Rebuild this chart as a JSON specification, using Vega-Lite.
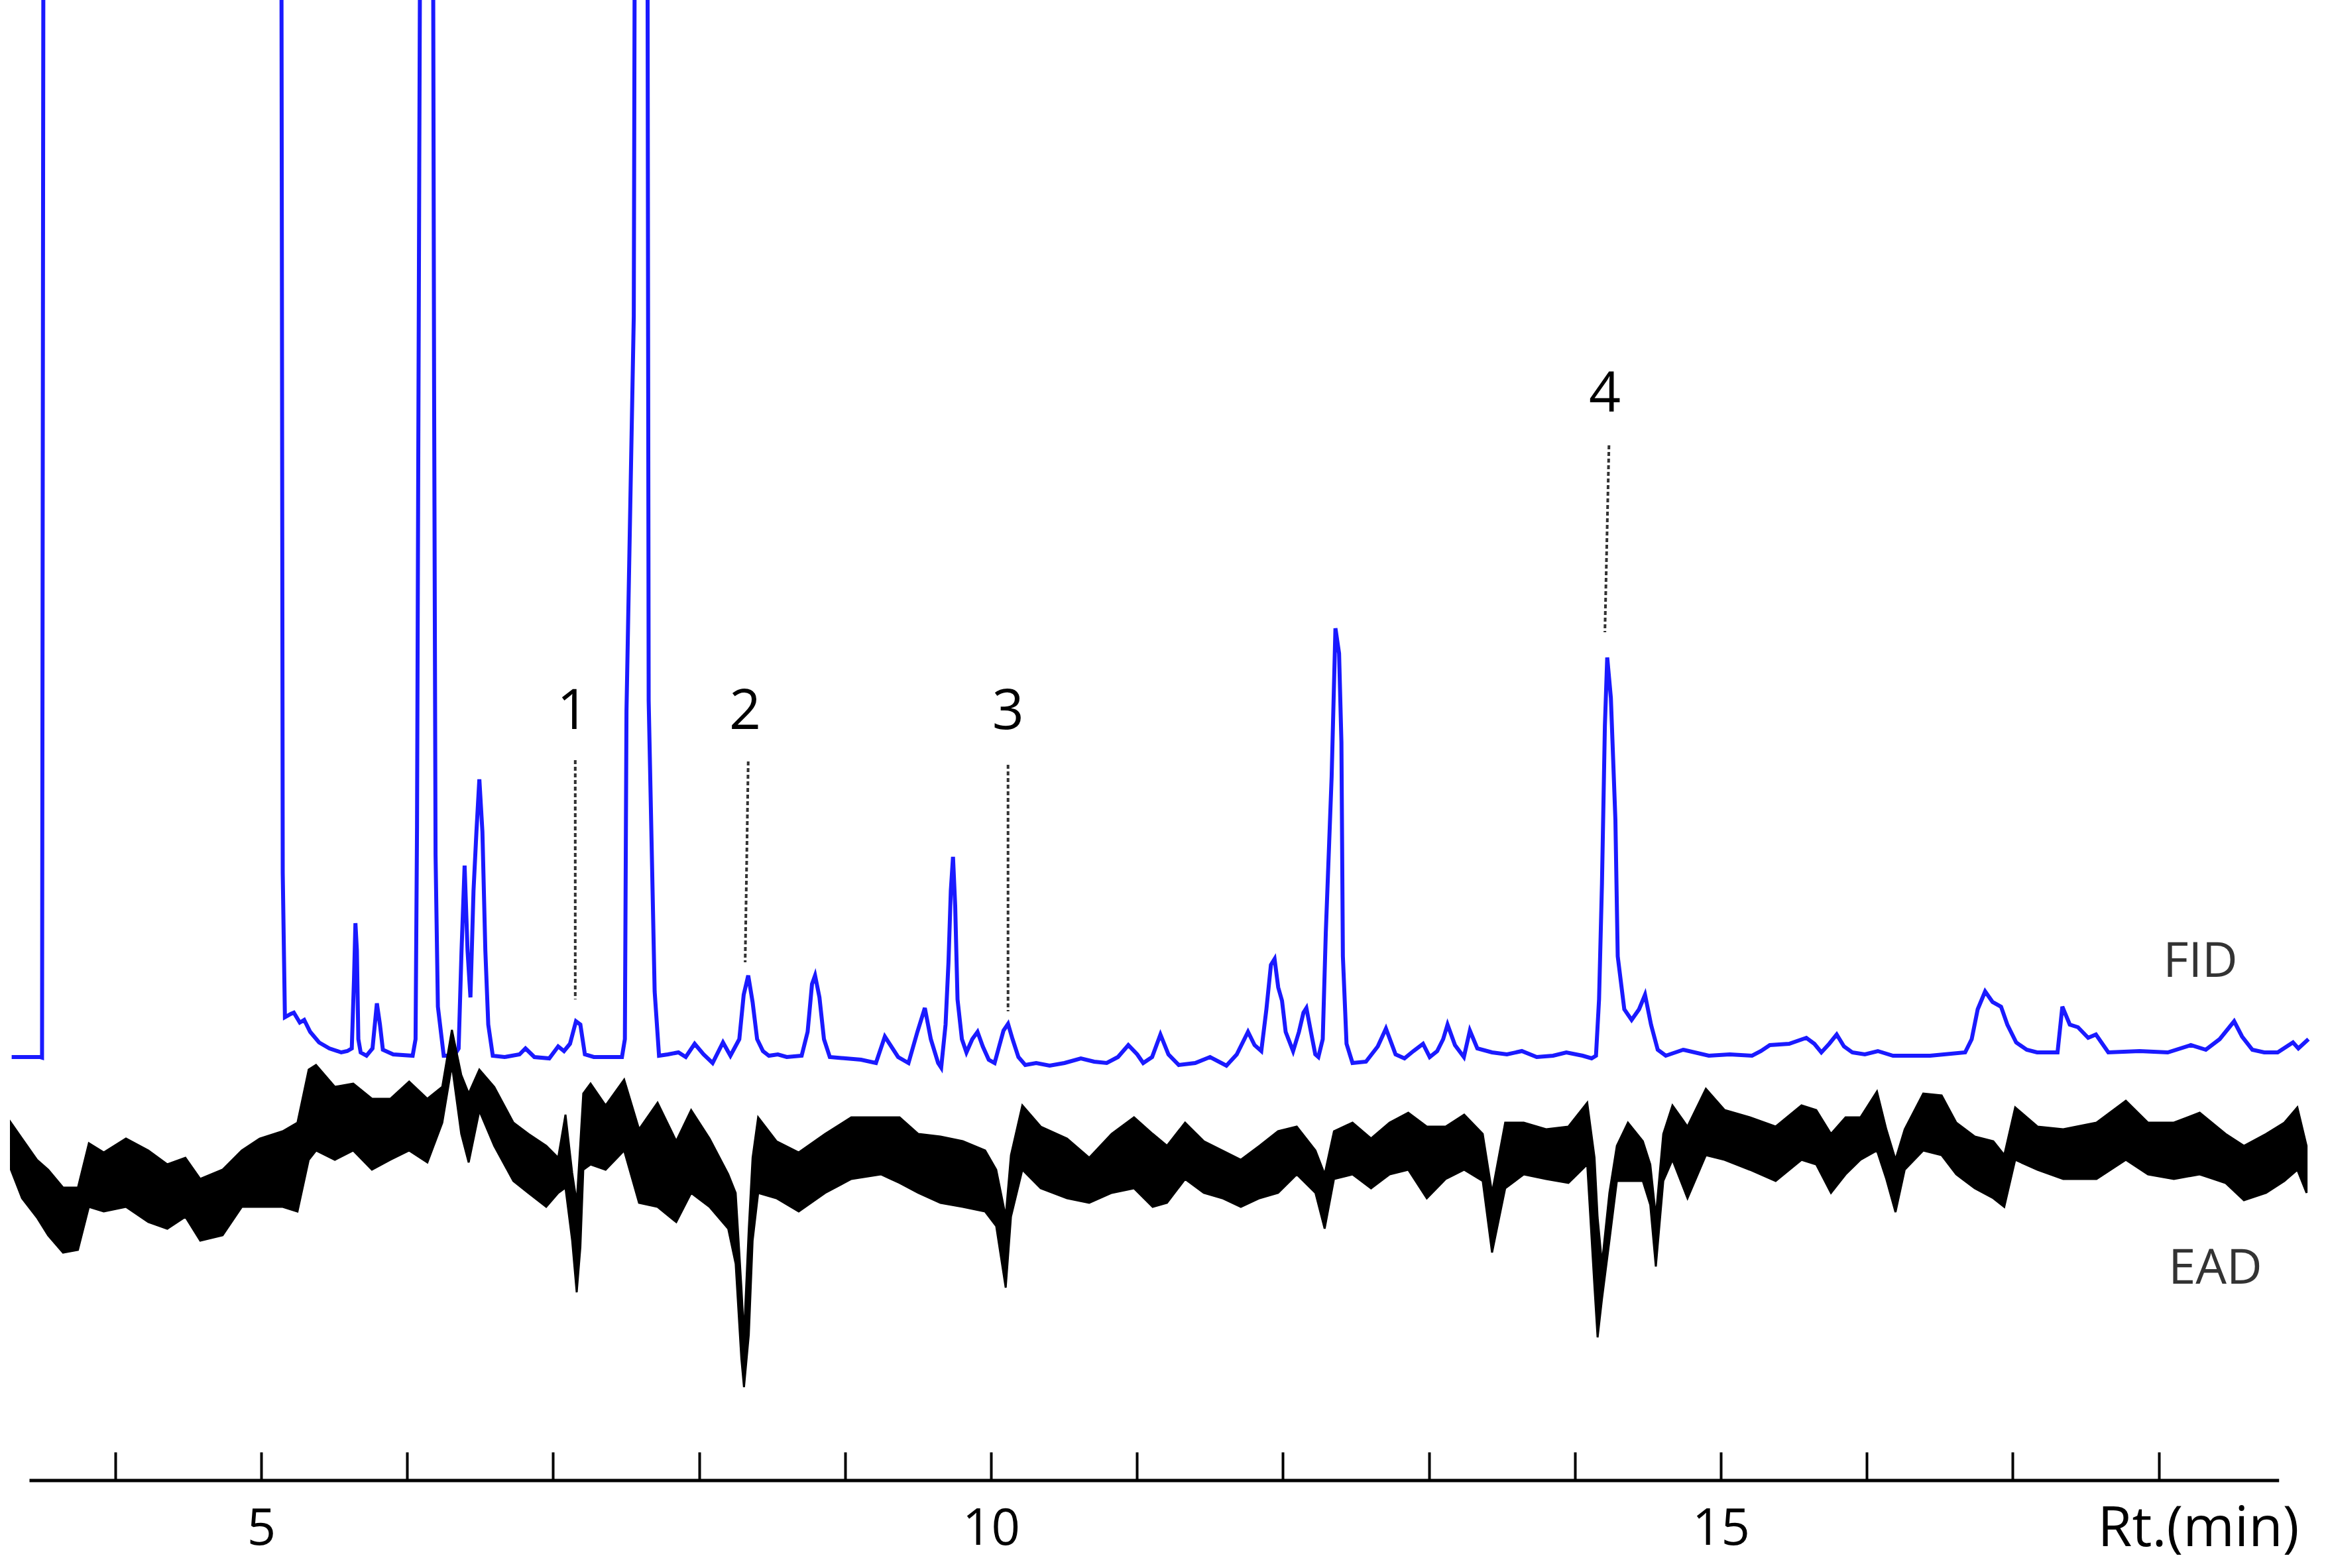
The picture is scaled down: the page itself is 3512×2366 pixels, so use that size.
{
  "$schema": "https://vega.github.io/schema/vega-lite/v6.json",
  "autosize": {"type": "none"},
  "padding": {"left": 0, "top": 0, "right": 0, "bottom": 132},
  "width": 3512,
  "height": 2234,
  "background": "white",
  "config": {"view": {"stroke": null}, "font": "Open Sans"},
  "datasets": {
    "fid": [
      {"t":3.291,"v":0},{"t":3.484,"v":0},{"t":3.499,"v":-0.1},{"t":3.51,"v":200},{"t":5.137,"v":200},
      {"t":5.148,"v":27.8},{"t":5.163,"v":6.0},{"t":5.203,"v":6.5},{"t":5.224,"v":6.7},{"t":5.265,"v":5.2},
      {"t":5.295,"v":5.6},{"t":5.336,"v":3.8},{"t":5.397,"v":2.2},{"t":5.468,"v":1.3},{"t":5.549,"v":0.7},
      {"t":5.59,"v":0.9},{"t":5.621,"v":1.3},{"t":5.636,"v":11.6},{"t":5.646,"v":20.2},{"t":5.656,"v":16.1},
      {"t":5.666,"v":2.7},{"t":5.682,"v":0.7},{"t":5.722,"v":0.2},{"t":5.763,"v":1.3},{"t":5.793,"v":8.1},
      {"t":5.814,"v":4.9},{"t":5.834,"v":1.1},{"t":5.905,"v":0.4},{"t":6.038,"v":0.2},{"t":6.058,"v":2.7},
      {"t":6.068,"v":34.7},{"t":6.083,"v":131.9},{"t":6.094,"v":200},{"t":6.175,"v":200},{"t":6.185,"v":101.0},
      {"t":6.195,"v":30.5},{"t":6.211,"v":7.6},{"t":6.251,"v":0.2},{"t":6.322,"v":0.2},{"t":6.353,"v":1.3},
      {"t":6.373,"v":16.1},{"t":6.394,"v":28.9},{"t":6.414,"v":16.1},{"t":6.434,"v":9.0},{"t":6.455,"v":25.1},
      {"t":6.475,"v":34.0},{"t":6.495,"v":41.9},{"t":6.516,"v":34.0},{"t":6.536,"v":16.1},{"t":6.556,"v":4.9},
      {"t":6.587,"v":0.2},{"t":6.668,"v":0},{"t":6.77,"v":0.4},{"t":6.811,"v":1.3},{"t":6.872,"v":0},
      {"t":6.974,"v":-0.2},{"t":7.035,"v":1.6},{"t":7.075,"v":0.9},{"t":7.116,"v":2.0},{"t":7.157,"v":5.4},
      {"t":7.187,"v":4.9},{"t":7.218,"v":0.4},{"t":7.279,"v":0},{"t":7.431,"v":0},{"t":7.472,"v":0},
      {"t":7.492,"v":2.7},{"t":7.503,"v":52.2},{"t":7.553,"v":111.8},{"t":7.563,"v":200},{"t":7.645,"v":200},
      {"t":7.655,"v":53.8},{"t":7.696,"v":9.9},{"t":7.726,"v":0.2},{"t":7.787,"v":0.4},{"t":7.859,"v":0.7},
      {"t":7.909,"v":0},{"t":7.97,"v":2.0},{"t":8.031,"v":0.4},{"t":8.093,"v":-0.9},{"t":8.164,"v":2.2},
      {"t":8.215,"v":0.2},{"t":8.276,"v":2.7},{"t":8.306,"v":9.4},{"t":8.337,"v":12.3},{"t":8.367,"v":8.3},
      {"t":8.398,"v":2.7},{"t":8.438,"v":0.9},{"t":8.479,"v":0.2},{"t":8.54,"v":0.4},{"t":8.601,"v":0},
      {"t":8.703,"v":0.2},{"t":8.744,"v":3.8},{"t":8.774,"v":11.0},{"t":8.795,"v":12.3},{"t":8.825,"v":9.0},
      {"t":8.856,"v":2.7},{"t":8.896,"v":0},{"t":9.11,"v":-0.4},{"t":9.212,"v":-0.9},{"t":9.273,"v":3.1},
      {"t":9.364,"v":0},{"t":9.435,"v":-0.9},{"t":9.496,"v":3.8},{"t":9.547,"v":7.4},{"t":9.588,"v":2.7},
      {"t":9.638,"v":-0.9},{"t":9.659,"v":-1.6},{"t":9.689,"v":4.9},{"t":9.709,"v":14.3},{"t":9.725,"v":25.1},
      {"t":9.74,"v":30.2},{"t":9.755,"v":22.8},{"t":9.771,"v":8.7},{"t":9.801,"v":2.7},{"t":9.832,"v":0.7},
      {"t":9.872,"v":2.7},{"t":9.908,"v":3.8},{"t":9.944,"v":1.6},{"t":9.985,"v":-0.4},{"t":10.025,"v":-0.9},
      {"t":10.056,"v":1.6},{"t":10.086,"v":4.0},{"t":10.117,"v":5.0},{"t":10.148,"v":2.7},{"t":10.188,"v":0},
      {"t":10.235,"v":-1.2},{"t":10.31,"v":-0.9},{"t":10.402,"v":-1.3},{"t":10.504,"v":-0.9},{"t":10.616,"v":-0.2},
      {"t":10.707,"v":-0.7},{"t":10.793,"v":-0.9},{"t":10.87,"v":0},{"t":10.941,"v":1.8},{"t":11.002,"v":0.4},
      {"t":11.043,"v":-0.9},{"t":11.104,"v":0},{"t":11.161,"v":3.4},{"t":11.216,"v":0.4},{"t":11.287,"v":-1.2},
      {"t":11.399,"v":-0.9},{"t":11.501,"v":0},{"t":11.613,"v":-1.3},{"t":11.684,"v":0.4},{"t":11.761,"v":3.8},
      {"t":11.806,"v":1.8},{"t":11.852,"v":0.9},{"t":11.887,"v":7.2},{"t":11.918,"v":13.9},{"t":11.943,"v":14.8},
      {"t":11.968,"v":10.5},{"t":11.994,"v":8.5},{"t":12.019,"v":3.8},{"t":12.07,"v":0.9},{"t":12.11,"v":3.8},
      {"t":12.141,"v":6.7},{"t":12.161,"v":7.4},{"t":12.192,"v":3.8},{"t":12.222,"v":0.4},{"t":12.243,"v":0},
      {"t":12.273,"v":2.7},{"t":12.294,"v":18.8},{"t":12.334,"v":42.3},{"t":12.36,"v":64.7},{"t":12.385,"v":60.9},
      {"t":12.401,"v":47.5},{"t":12.411,"v":15.2},{"t":12.436,"v":2.0},{"t":12.477,"v":-0.9},{"t":12.569,"v":-0.7},
      {"t":12.65,"v":1.6},{"t":12.706,"v":4.3},{"t":12.772,"v":0.4},{"t":12.833,"v":-0.2},{"t":12.894,"v":0.9},
      {"t":12.96,"v":2.0},{"t":13.006,"v":0},{"t":13.057,"v":0.9},{"t":13.098,"v":2.7},{"t":13.128,"v":4.9},
      {"t":13.179,"v":1.8},{"t":13.24,"v":0},{"t":13.281,"v":4.0},{"t":13.332,"v":1.3},{"t":13.433,"v":0.7},
      {"t":13.535,"v":0.4},{"t":13.637,"v":0.9},{"t":13.739,"v":0},{"t":13.851,"v":0.2},{"t":13.942,"v":0.7},
      {"t":14.054,"v":0.2},{"t":14.115,"v":-0.2},{"t":14.145,"v":0.2},{"t":14.166,"v":8.7},{"t":14.186,"v":26.2},
      {"t":14.206,"v":50.0},{"t":14.222,"v":60.3},{"t":14.247,"v":54.2},{"t":14.278,"v":35.8},{"t":14.294,"v":15.2},
      {"t":14.339,"v":7.2},{"t":14.389,"v":5.6},{"t":14.44,"v":7.2},{"t":14.481,"v":9.4},{"t":14.522,"v":4.9},
      {"t":14.568,"v":1.1},{"t":14.623,"v":0.2},{"t":14.742,"v":1.1},{"t":14.918,"v":0.2},{"t":15.061,"v":0.4},
      {"t":15.214,"v":0.2},{"t":15.275,"v":0.9},{"t":15.336,"v":1.8},{"t":15.468,"v":2.0},{"t":15.586,"v":2.9},
      {"t":15.641,"v":2.0},{"t":15.689,"v":0.7},{"t":15.743,"v":2.0},{"t":15.794,"v":3.4},{"t":15.844,"v":1.6},
      {"t":15.901,"v":0.7},{"t":15.987,"v":0.4},{"t":16.076,"v":0.9},{"t":16.18,"v":0.2},{"t":16.434,"v":0.2},
      {"t":16.674,"v":0.7},{"t":16.719,"v":2.7},{"t":16.76,"v":7.2},{"t":16.811,"v":9.9},{"t":16.862,"v":8.3},
      {"t":16.92,"v":7.6},{"t":16.963,"v":4.9},{"t":17.024,"v":2.2},{"t":17.096,"v":1.1},{"t":17.167,"v":0.7},
      {"t":17.307,"v":0.7},{"t":17.34,"v":7.6},{"t":17.391,"v":4.9},{"t":17.447,"v":4.5},{"t":17.517,"v":2.9},
      {"t":17.57,"v":3.4},{"t":17.655,"v":0.7},{"t":17.869,"v":0.9},{"t":18.062,"v":0.7},{"t":18.22,"v":1.8},
      {"t":18.323,"v":1.1},{"t":18.418,"v":2.7},{"t":18.517,"v":5.4},{"t":18.571,"v":3.1},{"t":18.642,"v":1.1},
      {"t":18.723,"v":0.7},{"t":18.815,"v":0.7},{"t":18.92,"v":2.2},{"t":18.957,"v":1.3},{"t":19.026,"v":2.7}
    ],
    "ead": [
      {"t":3.286,"hi":-9.9,"lo":-17.0},{"t":3.362,"hi":-12.3,"lo":-21.3},{"t":3.464,"hi":-15.5,"lo":-24.2},
      {"t":3.541,"hi":-17.0,"lo":-26.9},{"t":3.643,"hi":-19.7,"lo":-29.5},{"t":3.745,"hi":-19.7,"lo":-29.1},
      {"t":3.82,"hi":-13.0,"lo":-22.6},{"t":3.922,"hi":-14.4,"lo":-23.3},{"t":4.074,"hi":-12.3,"lo":-22.6},
      {"t":4.227,"hi":-14.1,"lo":-24.9},{"t":4.357,"hi":-16.2,"lo":-25.9},{"t":4.481,"hi":-15.2,"lo":-24.1},
      {"t":4.583,"hi":-18.4,"lo":-27.7},{"t":4.736,"hi":-17.0,"lo":-26.9},{"t":4.868,"hi":-14.1,"lo":-22.6},
      {"t":4.99,"hi":-12.3,"lo":-22.6},{"t":5.148,"hi":-11.2,"lo":-22.6},{"t":5.249,"hi":-9.9,"lo":-23.3},
      {"t":5.326,"hi":-1.9,"lo":-15.5},{"t":5.376,"hi":-1.2,"lo":-14.1},{"t":5.505,"hi":-4.5,"lo":-15.5},
      {"t":5.631,"hi":-4.0,"lo":-14.1},{"t":5.759,"hi":-6.3,"lo":-17.0},{"t":5.885,"hi":-6.3,"lo":-15.5},
      {"t":6.014,"hi":-3.7,"lo":-14.1},{"t":6.139,"hi":-6.3,"lo":-15.9},{"t":6.241,"hi":-4.5,"lo":-9.9},
      {"t":6.307,"hi":4.1,"lo":-1.2},{"t":6.371,"hi":-2.7,"lo":-11.6},{"t":6.422,"hi":-5.5,"lo":-15.9},
      {"t":6.495,"hi":-1.9,"lo":-8.1},{"t":6.597,"hi":-4.5,"lo":-13.4},{"t":6.728,"hi":-9.9,"lo":-18.7},
      {"t":6.831,"hi":-11.6,"lo":-20.5},{"t":6.953,"hi":-13.4,"lo":-22.6},{"t":7.035,"hi":-15.2,"lo":-20.5},
      {"t":7.085,"hi":-8.7,"lo":-19.7},{"t":7.131,"hi":-17.5,"lo":-27.7},{"t":7.162,"hi":-22.0,"lo":-35.5},
      {"t":7.187,"hi":-13.0,"lo":-28.7},{"t":7.207,"hi":-5.5,"lo":-17.0},{"t":7.257,"hi":-4.0,"lo":-16.2},
      {"t":7.36,"hi":-7.3,"lo":-17.0},{"t":7.487,"hi":-3.4,"lo":-14.1},{"t":7.589,"hi":-10.9,"lo":-22.0},
      {"t":7.716,"hi":-6.9,"lo":-22.6},{"t":7.844,"hi":-12.7,"lo":-24.9},{"t":7.946,"hi":-8.0,"lo":-20.5},
      {"t":8.072,"hi":-12.3,"lo":-22.6},{"t":8.2,"hi":-17.7,"lo":-25.9},{"t":8.251,"hi":-20.5,"lo":-31.2},
      {"t":8.29,"hi":-34.7,"lo":-45.5},{"t":8.308,"hi":-42.1,"lo":-49.8},{"t":8.341,"hi":-25.9,"lo":-41.9},
      {"t":8.367,"hi":-15.2,"lo":-27.7},{"t":8.405,"hi":-9.1,"lo":-20.5},{"t":8.53,"hi":-12.7,"lo":-21.3},
      {"t":8.683,"hi":-14.4,"lo":-23.3},{"t":8.864,"hi":-11.6,"lo":-20.5},{"t":9.043,"hi":-9.1,"lo":-18.4},
      {"t":9.246,"hi":-9.1,"lo":-17.7},{"t":9.374,"hi":-9.1,"lo":-19.0},{"t":9.502,"hi":-11.6,"lo":-20.5},
      {"t":9.654,"hi":-12.0,"lo":-22.0},{"t":9.807,"hi":-12.7,"lo":-22.6},{"t":9.96,"hi":-14.1,"lo":-23.3},
      {"t":10.036,"hi":-17.0,"lo":-25.5},{"t":10.101,"hi":-24.1,"lo":-34.8},{"t":10.137,"hi":-14.8,"lo":-24.1},
      {"t":10.215,"hi":-7.3,"lo":-17.0},{"t":10.341,"hi":-10.5,"lo":-19.8},{"t":10.521,"hi":-12.3,"lo":-21.3},
      {"t":10.673,"hi":-15.2,"lo":-22.0},{"t":10.827,"hi":-11.6,"lo":-20.5},{"t":10.98,"hi":-9.1,"lo":-19.8},
      {"t":11.108,"hi":-11.6,"lo":-22.6},{"t":11.206,"hi":-13.4,"lo":-22.0},{"t":11.33,"hi":-9.9,"lo":-18.4},
      {"t":11.458,"hi":-12.7,"lo":-20.5},{"t":11.585,"hi":-14.1,"lo":-21.3},{"t":11.712,"hi":-15.5,"lo":-22.6},
      {"t":11.84,"hi":-13.4,"lo":-21.3},{"t":11.967,"hi":-11.2,"lo":-20.5},{"t":12.095,"hi":-10.5,"lo":-17.7},
      {"t":12.223,"hi":-14.1,"lo":-20.5},{"t":12.286,"hi":-17.7,"lo":-25.9},{"t":12.35,"hi":-11.2,"lo":-18.4},
      {"t":12.477,"hi":-9.9,"lo":-17.7},{"t":12.604,"hi":-12.3,"lo":-19.8},{"t":12.731,"hi":-9.9,"lo":-17.7},
      {"t":12.859,"hi":-8.4,"lo":-17.0},{"t":12.986,"hi":-10.5,"lo":-21.3},{"t":13.115,"hi":-10.5,"lo":-18.4},
      {"t":13.242,"hi":-8.7,"lo":-17.0},{"t":13.369,"hi":-11.6,"lo":-18.7},{"t":13.433,"hi":-20.5,"lo":-29.5},
      {"t":13.523,"hi":-9.9,"lo":-19.8},{"t":13.65,"hi":-9.9,"lo":-17.7},{"t":13.803,"hi":-10.9,"lo":-18.4},
      {"t":13.956,"hi":-10.5,"lo":-19.0},{"t":14.085,"hi":-6.9,"lo":-16.2},{"t":14.135,"hi":-15.2,"lo":-34.8},
      {"t":14.156,"hi":-24.2,"lo":-42.3},{"t":14.186,"hi":-31.2,"lo":-36.5},{"t":14.237,"hi":-20.5,"lo":-27.7},
      {"t":14.288,"hi":-13.4,"lo":-18.7},{"t":14.364,"hi":-9.9,"lo":-18.7},{"t":14.466,"hi":-12.7,"lo":-18.7},
      {"t":14.517,"hi":-16.2,"lo":-22.3},{"t":14.555,"hi":-24.1,"lo":-31.6},{"t":14.606,"hi":-11.6,"lo":-18.7},
      {"t":14.669,"hi":-7.3,"lo":-15.5},{"t":14.772,"hi":-10.5,"lo":-21.3},{"t":14.898,"hi":-4.8,"lo":-14.8},
      {"t":15.026,"hi":-8.0,"lo":-15.5},{"t":15.199,"hi":-9.1,"lo":-17.0},{"t":15.376,"hi":-10.5,"lo":-18.7},
      {"t":15.553,"hi":-7.3,"lo":-15.5},{"t":15.654,"hi":-8.0,"lo":-16.2},{"t":15.755,"hi":-11.6,"lo":-20.5},
      {"t":15.855,"hi":-9.1,"lo":-17.7},{"t":15.957,"hi":-9.1,"lo":-15.5},{"t":16.07,"hi":-5.2,"lo":-14.1},
      {"t":16.134,"hi":-10.9,"lo":-18.4},{"t":16.197,"hi":-15.5,"lo":-23.4},{"t":16.26,"hi":-10.9,"lo":-17.0},
      {"t":16.387,"hi":-5.5,"lo":-14.1},{"t":16.513,"hi":-5.8,"lo":-14.8},{"t":16.613,"hi":-9.9,"lo":-17.7},
      {"t":16.74,"hi":-12.0,"lo":-19.8},{"t":16.867,"hi":-12.7,"lo":-21.3},{"t":16.942,"hi":-14.8,"lo":-22.6},
      {"t":17.017,"hi":-7.6,"lo":-15.5},{"t":17.17,"hi":-10.5,"lo":-17.0},{"t":17.346,"hi":-10.9,"lo":-18.4},
      {"t":17.574,"hi":-9.9,"lo":-18.4},{"t":17.775,"hi":-6.6,"lo":-15.5},{"t":17.927,"hi":-9.9,"lo":-17.7},
      {"t":18.104,"hi":-9.9,"lo":-18.4},{"t":18.281,"hi":-8.4,"lo":-17.7},{"t":18.458,"hi":-11.6,"lo":-19.0},
      {"t":18.584,"hi":-13.4,"lo":-21.6},{"t":18.736,"hi":-11.6,"lo":-20.5},{"t":18.861,"hi":-9.9,"lo":-18.7},
      {"t":18.95,"hi":-7.6,"lo":-17.0},{"t":19.013,"hi":-13.4,"lo":-20.5}
    ],
    "leaders": [
      {"id":"1","t1":7.152,"t2":7.152,"v1":44.8,"v2":8.7},
      {"id":"2","t1":8.337,"t2":8.316,"v1":44.6,"v2":14.3},
      {"id":"3","t1":10.117,"t2":10.117,"v1":44.1,"v2":6.9},
      {"id":"4","t1":14.234,"t2":14.206,"v1":92.3,"v2":64.1}
    ],
    "numbers": [
      {"label":"1","t":7.136,"v":52.0},
      {"label":"2","t":8.316,"v":52.0},
      {"label":"3","t":10.117,"v":52.0},
      {"label":"4","t":14.206,"v":99.9}
    ],
    "traces": [
      {"label":"FID","t":18.286,"v":14.3},
      {"label":"EAD","t":18.388,"v":-32.0}
    ],
    "axisline": [{"start":3.413,"end":18.825}]
  },
  "layer": [
    {
      "data": {"name": "fid"},
      "mark": {"type": "line", "color": "#1a1aff", "strokeWidth": 6, "clip": true},
      "encoding": {
        "x": {"field": "t", "type": "quantitative", "title": "Rt.(min)", "scale": {"domain": [3.211, 19.16], "nice": false, "zero": false},
          "axis": {
            "values": [4,5,6,7,8,9,10,11,12,13,14,15,16,17,18],
            "orient": "bottom",
            "offset": -43,
            "format": "d",
            "domain": false, "grid": false, "ticks": true,
            "tickSize": 43, "tickWidth": 4, "tickColor": "black",
            "labelExpr": "datum.value % 5 === 0 ? datum.label : ''",
            "labelFont": "Open Sans", "labelFontSize": 76, "labelColor": "black",
            "labelBaseline": "middle", "labelPadding": 73, "labelFlush": false, "labelOverlap": false,
            "titleFont": "Open Sans", "titleFontSize": 84, "titleFontWeight": "normal",
            "titleColor": "black", "titleAlign": "right", "titleBaseline": "middle",
            "titleX": 3468, "titleY": 116
          }},
        "y": {"field": "v", "type": "quantitative", "scale": {"domain": [-63.9, 159.5], "nice": false, "zero": false}, "axis": null}
      }
    },
    {
      "data": {"name": "ead"},
      "mark": {"type": "area", "color": "black", "stroke": "black", "strokeWidth": 3, "clip": true},
      "encoding": {
        "x": {"field": "t", "type": "quantitative"},
        "y": {"field": "hi", "type": "quantitative"},
        "y2": {"field": "lo"}
      }
    },
    {
      "data": {"name": "leaders"},
      "mark": {"type": "rule", "color": "#333333", "strokeWidth": 4, "strokeDash": [6, 4]},
      "encoding": {
        "x": {"field": "t1", "type": "quantitative"},
        "x2": {"field": "t2"},
        "y": {"field": "v1", "type": "quantitative"},
        "y2": {"field": "v2"}
      }
    },
    {
      "data": {"name": "numbers"},
      "mark": {"type": "text", "font": "Open Sans", "fontSize": 84, "color": "black", "align": "center", "baseline": "middle"},
      "encoding": {
        "x": {"field": "t", "type": "quantitative"},
        "y": {"field": "v", "type": "quantitative"},
        "text": {"field": "label"}
      }
    },
    {
      "data": {"name": "traces"},
      "mark": {"type": "text", "font": "Open Sans", "fontSize": 74, "color": "#333333", "align": "center", "baseline": "middle"},
      "encoding": {
        "x": {"field": "t", "type": "quantitative"},
        "y": {"field": "v", "type": "quantitative"},
        "text": {"field": "label"}
      }
    },
    {
      "data": {"name": "axisline"},
      "mark": {"type": "rule", "color": "black", "strokeWidth": 5},
      "encoding": {
        "x": {"field": "start", "type": "quantitative"},
        "x2": {"field": "end"},
        "y": {"datum": -63.9, "type": "quantitative"}
      }
    }
  ]
}
